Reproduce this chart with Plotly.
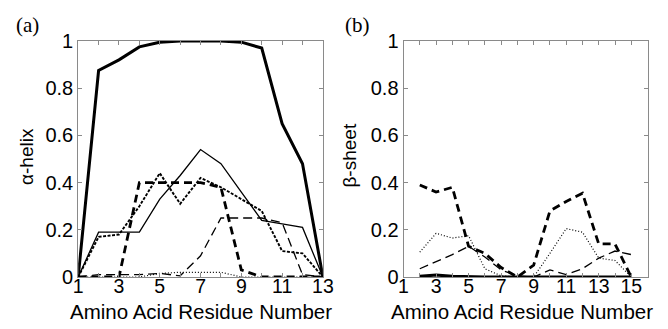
import plotly.graph_objects as go

# ---------------- data ----------------
res_a = [1, 2, 3, 4, 5, 6, 7, 8, 9, 10, 11, 12, 13]
helix_thick_solid = [0, 0.875, 0.92, 0.975, 0.995, 1.0, 1.0, 1.0, 0.995, 0.97, 0.65, 0.48, 0]
helix_thin_solid = [0, 0.19, 0.19, 0.19, 0.33, 0.43, 0.54, 0.48, 0.36, 0.24, 0.225, 0.21, 0]
helix_thick_dotted = [0, 0.17, 0.18, 0.30, 0.44, 0.31, 0.42, 0.38, 0.33, 0.28, 0.11, 0.10, 0]
helix_thick_dashed = [0, 0, 0, 0.40, 0.40, 0.40, 0.40, 0.38, 0.03, 0, 0, 0, 0]
helix_thin_dashed = [0, 0.01, 0.01, 0.01, 0.015, 0.005, 0.09, 0.25, 0.25, 0.25, 0.23, 0.01, 0]
helix_thin_dotted = [0, 0, 0, 0, 0.015, 0.02, 0.02, 0.02, 0, 0, 0, 0, 0]

res_b = [2, 3, 4, 5, 6, 7, 8, 9, 10, 11, 12, 13, 14, 15]
sheet_thick_dashed = [0.39, 0.36, 0.38, 0.13, 0.10, 0.04, 0.0, 0.05, 0.28, 0.32, 0.355, 0.14, 0.14, 0.0]
sheet_thin_dotted = [0.105, 0.185, 0.165, 0.175, 0.035, 0.005, 0, 0, 0.10, 0.205, 0.19, 0.08, 0.07, 0.0]
sheet_thin_dashed = [0.035, 0.065, 0.095, 0.13, 0.085, 0.03, 0.005, 0.0, 0.03, 0.01, 0.035, 0.08, 0.11, 0.095]
sheet_thick_solid = [0.003, 0.008, 0.003, 0, 0, 0, 0, 0, 0, 0, 0, 0, 0, 0]

ticks_a = list(range(1, 14))
ticks_b = list(range(1, 17))
y_ticks = [0, 0.2, 0.4, 0.6, 0.8, 1]
y_labels = ["0", "0.2", "0.4", "0.6", "0.8", "1"]

# ---------------- styles ----------------
FONT = "Liberation Sans, Arial, Helvetica, sans-serif"
SERIF = "Liberation Serif, Times New Roman, serif"
styles = {
    "thick_solid": dict(color="black", width=3, dash="solid"),
    "thin_solid": dict(color="black", width=1.3, dash="solid"),
    "thick_dotted": dict(color="black", width=1.9, dash="3px,1.5px"),
    "thick_dashed": dict(color="black", width=2.8, dash="8px,5px"),
    "thin_dashed": dict(color="black", width=1.3, dash="9px,5px"),
    "thin_dotted": dict(color="black", width=1.2, dash="1px,2px"),
}

fig = go.Figure()

def add(x, y, style, xa, ya):
    fig.add_trace(go.Scatter(x=x, y=y, mode="lines", line=styles[style],
                             xaxis=xa, yaxis=ya, showlegend=False, hoverinfo="skip"))

add(res_a, helix_thin_dotted, "thin_dotted", "x", "y")
add(res_a, helix_thin_dashed, "thin_dashed", "x", "y")
add(res_a, helix_thick_dashed, "thick_dashed", "x", "y")
add(res_a, helix_thick_dotted, "thick_dotted", "x", "y")
add(res_a, helix_thin_solid, "thin_solid", "x", "y")
add(res_a, helix_thick_solid, "thick_solid", "x", "y")

add(res_b, sheet_thin_dashed, "thin_dashed", "x2", "y2")
add(res_b, sheet_thin_dotted, "thin_dotted", "x2", "y2")
add(res_b, sheet_thick_dashed, "thick_dashed", "x2", "y2")
add(res_b, sheet_thick_solid, "thick_solid", "x2", "y2")

AX = "#8a8a8a"
common_x = dict(showgrid=False, zeroline=False, showline=True, linecolor=AX, linewidth=1,
                mirror="allticks", ticks="inside", ticklen=4, tickcolor=AX, tickwidth=1,
                ticklabelstandoff=-8,
                tickfont=dict(family=FONT, size=19.5, color="black"))
common_y = dict(showgrid=False, zeroline=False, showline=True, linecolor=AX, linewidth=1,
                mirror="allticks", ticks="inside", ticklen=4, tickcolor=AX, tickwidth=1,
                tickvals=y_ticks, ticktext=y_labels, range=[0, 1],
                tickfont=dict(family=FONT, size=20, color="black"))

xa_dom = [75 / 668, 325.7 / 668]
xb_dom = [408.3 / 668, 658.3 / 668]
PH = 236.0  # plot height in px


def ann(text, x, ypx, size, family=FONT, angle=0, xanchor="center"):
    return dict(text=text, x=x, y=-(ypx - 277) / PH, xref="paper", yref="paper",
                xanchor=xanchor, yanchor="middle", showarrow=False, textangle=angle,
                font=dict(family=family, size=size, color="black"))


fig.update_layout(
    width=668, height=329,
    margin=dict(l=0, r=0, t=41, b=52),
    paper_bgcolor="white", plot_bgcolor="white",
    xaxis=dict(common_x, domain=xa_dom, range=[1, 13],
               tickvals=ticks_a, ticktext=[str(t) if t % 2 == 1 else "" for t in ticks_a]),
    yaxis=dict(common_y, domain=[0, 1], anchor="x"),
    xaxis2=dict(common_x, domain=xb_dom, range=[1, 16], anchor="y2",
                tickvals=ticks_b, ticktext=[str(t) if (t % 2 == 1 and t <= 15) else "" for t in ticks_b]),
    yaxis2=dict(common_y, domain=[0, 1], anchor="x2"),
    annotations=[
        ann("Amino Acid Residue Number", sum(xa_dom) / 2, 311, 20.5),
        ann("Amino Acid Residue Number", sum(xb_dom) / 2 - 4 / 668, 311, 20.5),
        ann("α-helix", 21.5 / 668, 156, 19, angle=-90),
        ann("β-sheet", 352 / 668, 156, 19, angle=-90),
        ann("(a)", 9 / 668, 25, 21, family=SERIF, xanchor="left"),
        ann("(b)", 346 / 668, 25, 21, family=SERIF, xanchor="left"),
    ],
)

fig.write_html("out.html")
